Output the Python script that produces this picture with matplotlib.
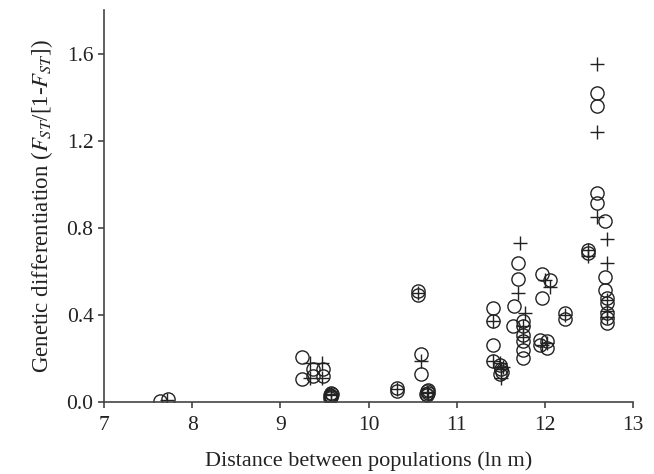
import matplotlib
matplotlib.use("Agg")
import matplotlib.pyplot as plt

plt.rcParams['font.family'] = ['Liberation Serif', 'DejaVu Serif']
plt.rcParams['mathtext.fontset'] = 'stix'

# Series 1: open circles
circle_x = [7.63, 7.73,
            9.25, 9.25, 9.37, 9.37, 9.48, 9.48, 9.56, 9.57, 9.58, 9.56, 9.59, 9.57,
            10.32, 10.32, 10.56, 10.56, 10.60, 10.60, 10.66, 10.67, 10.65, 10.67, 10.66,
            11.41, 11.41, 11.41, 11.41, 11.49, 11.50, 11.49, 11.51,
            11.65, 11.64, 11.69, 11.70,
            11.75, 11.75, 11.75, 11.75, 11.75, 11.75,
            11.97, 11.97, 11.95, 11.95, 12.02, 12.02, 12.06,
            12.23, 12.23, 12.49, 12.49,
            12.59, 12.59, 12.59, 12.59,
            12.68, 12.68, 12.68, 12.71, 12.71, 12.70, 12.70, 12.71]
circle_y = [0.005, 0.015,
            0.205, 0.105, 0.15, 0.12, 0.15, 0.12, 0.03, 0.04, 0.025, 0.02, 0.035, 0.028,
            0.065, 0.05, 0.51, 0.49, 0.22, 0.13, 0.05, 0.04, 0.035, 0.055, 0.03,
            0.43, 0.37, 0.26, 0.19, 0.17, 0.15, 0.13, 0.14,
            0.44, 0.35, 0.565, 0.64,
            0.37, 0.35, 0.31, 0.28, 0.24, 0.20,
            0.59, 0.48, 0.285, 0.26, 0.28, 0.25, 0.56,
            0.41, 0.38, 0.70, 0.685,
            1.42, 1.36, 0.96, 0.915,
            0.83, 0.575, 0.515, 0.48, 0.455, 0.41, 0.385, 0.365]

# Series 2: crosses
cross_x = [7.72,
           9.34, 9.47, 9.34, 9.47, 9.57, 9.57,
           10.32, 10.56, 10.60, 10.66, 10.67,
           11.41, 11.41, 11.49, 11.50, 11.50, 11.52,
           11.72, 11.70, 11.77, 11.75, 11.75,
           11.97, 12.02, 12.00, 12.06, 12.23,
           12.49, 12.49, 12.59, 12.59, 12.59,
           12.70, 12.70, 12.71, 12.71, 12.70]
cross_y = [0.01,
           0.18, 0.18, 0.11, 0.11, 0.03, 0.035,
           0.06, 0.50, 0.19, 0.045, 0.04,
           0.37, 0.19, 0.18, 0.15, 0.11, 0.16,
           0.73, 0.50, 0.41, 0.35, 0.30,
           0.26, 0.27, 0.56, 0.53, 0.40,
           0.67, 0.70, 1.555, 1.24, 0.85,
           0.75, 0.64, 0.47, 0.42, 0.39]

x_ticks = [7, 8, 9, 10, 11, 12, 13]
y_ticks = [0.0, 0.4, 0.8, 1.2, 1.6]

fig = plt.figure(figsize=(6.54, 4.74), dpi=100)
ax = fig.add_axes([0.159, 0.152, 0.809, 0.826])

ink = '#222222'
ax.plot(circle_x, circle_y, linestyle='none', marker='o', markersize=9.5,
        markerfacecolor='none', markeredgecolor=ink, markeredgewidth=1.0)
ax.plot(cross_x, cross_y, linestyle='none', marker='+', markersize=10,
        markeredgecolor=ink, markeredgewidth=1.0)

ax.set_xlim(7, 13)
ax.set_ylim(0, 1.8)
ax.set_xticks(x_ticks)
ax.set_xticklabels([str(t) for t in x_ticks])
ax.set_yticks(y_ticks)
ax.set_yticklabels([f"{t:.1f}" for t in y_ticks])

for s in ['top', 'right']:
    ax.spines[s].set_visible(False)
for s in ['left', 'bottom']:
    ax.spines[s].set_color('#444444')
    ax.spines[s].set_linewidth(1.2)
ax.tick_params(direction='out', length=4, width=1.2, color='#444444',
               labelsize=15.5, labelcolor='#222222')
ax.tick_params(axis='x', pad=6)

ax.set_xlabel('Distance between populations (ln m)', fontsize=16, color='#222222', labelpad=12)
ax.set_ylabel(r'Genetic differentiation ($F_{ST}$/[1-$F_{ST}$])', fontsize=16.5,
              color='#222222', labelpad=8)

fig.savefig('out.png', dpi=100)
